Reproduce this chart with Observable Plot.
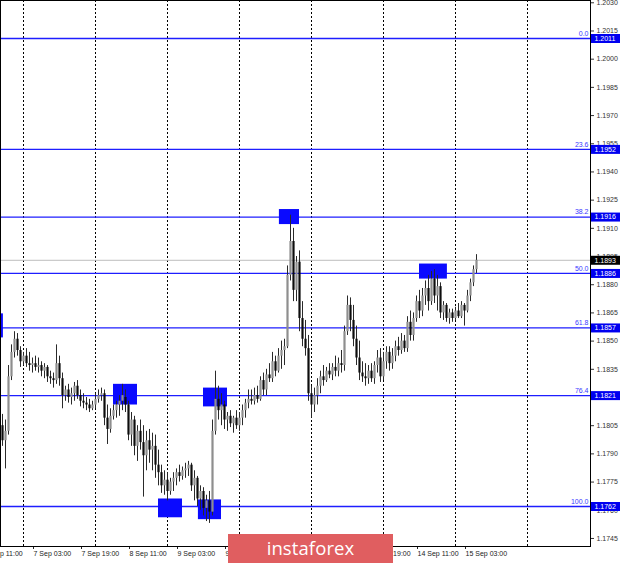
<!DOCTYPE html>
<html>
<head>
<meta charset="utf-8">
<script src="https://cdn.jsdelivr.net/npm/d3@7"></script>
<script src="https://cdn.jsdelivr.net/npm/@observablehq/plot@0.6"></script>
<style>
  html, body { margin: 0; padding: 0; background: #fff; }
  #wrap { position: relative; width: 620px; height: 563px; overflow: hidden; }
  #wm { position: absolute; left: 228px; top: 534px; width: 165px; height: 40px;
        background: #e05e60; color: #fff; font-family: "Open Sans", "Liberation Sans", sans-serif;
        font-size: 18.5px; line-height: 28px; text-align: center; letter-spacing: 0.1px; }
</style>
</head>
<body>
<div id="wrap"><div id="chart"></div><div id="wm">instaforex</div></div>
<script>
// ---- data (EURUSD H1) ----
const firstBar = -1; // index of first bar (7 Sep 03:00 = index 10)
const openP = [1.1808,1.1805,1.1797,1.1802,1.1831,1.1844,1.1851,1.1845,1.1839,1.1842,1.1838,1.1837,1.1838,1.1836,1.1837,1.1834,1.1836,1.1831,1.1830,1.1829,1.1838,1.1830,1.1821,1.1824,1.1820,1.1822,1.1826,1.1821,1.1818,1.1817,1.1816,1.1814,1.1816,1.1819,1.1821,1.1822,1.1809,1.1803,1.1810,1.1813,1.1816,1.1818,1.1820,1.1816,1.1800,1.1808,1.1794,1.1802,1.1796,1.1789,1.1797,1.1792,1.1794,1.1784,1.1780,1.1773,1.1776,1.1770,1.1775,1.1777,1.1780,1.1778,1.1781,1.1782,1.1784,1.1773,1.1777,1.1766,1.1770,1.1761,1.1765,1.1759,1.1802,1.1819,1.1813,1.1816,1.1808,1.1810,1.1806,1.1809,1.1805,1.1809,1.1813,1.1817,1.1819,1.1818,1.1821,1.1819,1.1829,1.1824,1.1832,1.1830,1.1839,1.1834,1.1842,1.1845,1.1847,1.1885,1.1903,1.1877,1.1892,1.1862,1.1851,1.1846,1.1822,1.1816,1.1821,1.1826,1.1831,1.1829,1.1834,1.1832,1.1836,1.1834,1.1838,1.1837,1.1855,1.1869,1.1861,1.1851,1.1841,1.1833,1.1831,1.1830,1.1834,1.1830,1.1837,1.1841,1.1831,1.1839,1.1844,1.1838,1.1842,1.1847,1.1845,1.1850,1.1846,1.1860,1.1853,1.1862,1.1871,1.1866,1.1874,1.1878,1.1871,1.1883,1.1874,1.1879,1.1865,1.1869,1.1862,1.1865,1.1862,1.1866,1.1863,1.1869,1.1866,1.1874,1.1881,1.1888];
const highP = [1.1816,1.1811,1.1808,1.1837,1.1848,1.1855,1.1854,1.1847,1.1844,1.1846,1.1844,1.1841,1.1842,1.1841,1.1839,1.1838,1.1837,1.1834,1.1833,1.1848,1.1842,1.1833,1.1826,1.1827,1.1825,1.1828,1.1829,1.1824,1.1822,1.1820,1.1819,1.1818,1.1822,1.1824,1.1825,1.1824,1.1816,1.1814,1.1816,1.1818,1.1821,1.1827,1.1824,1.1818,1.1812,1.1810,1.1805,1.1808,1.1805,1.1802,1.1803,1.1801,1.1800,1.1792,1.1784,1.1781,1.1780,1.1777,1.1780,1.1782,1.1784,1.1783,1.1785,1.1786,1.1785,1.1781,1.1778,1.1773,1.1772,1.1768,1.1770,1.1808,1.1834,1.1826,1.1822,1.1818,1.1812,1.1813,1.1810,1.1813,1.1812,1.1816,1.1819,1.1824,1.1824,1.1825,1.1826,1.1831,1.1833,1.1835,1.1838,1.1844,1.1842,1.1846,1.1850,1.1851,1.1890,1.1917,1.1910,1.1895,1.1898,1.1871,1.1861,1.1853,1.1826,1.1825,1.1830,1.1834,1.1837,1.1836,1.1838,1.1838,1.1842,1.1841,1.1845,1.1858,1.1874,1.1873,1.1869,1.1858,1.1850,1.1839,1.1838,1.1837,1.1838,1.1839,1.1845,1.1846,1.1844,1.1847,1.1847,1.1846,1.1850,1.1852,1.1854,1.1853,1.1863,1.1866,1.1865,1.1874,1.1877,1.1878,1.1882,1.1885,1.1887,1.1888,1.1885,1.1881,1.1871,1.1870,1.1867,1.1867,1.1868,1.1870,1.1871,1.1870,1.1877,1.1883,1.1890,1.1896];
const lowP = [1.1797,1.1794,1.1782,1.1800,1.1829,1.1841,1.1842,1.1836,1.1837,1.1836,1.1834,1.1833,1.1834,1.1833,1.1831,1.1830,1.1828,1.1827,1.1825,1.1827,1.1826,1.1814,1.1818,1.1817,1.1816,1.1818,1.1819,1.1815,1.1814,1.1813,1.1812,1.1813,1.1814,1.1817,1.1818,1.1805,1.1795,1.1801,1.1808,1.1809,1.1810,1.1813,1.1812,1.1797,1.1794,1.1789,1.1786,1.1792,1.1767,1.1781,1.1785,1.1781,1.1777,1.1773,1.1769,1.1768,1.1765,1.1768,1.1770,1.1773,1.1775,1.1776,1.1777,1.1778,1.1770,1.1765,1.1762,1.1760,1.1757,1.1754,1.1753,1.1757,1.1800,1.1808,1.1805,1.1803,1.1802,1.1804,1.1801,1.1803,1.1802,1.1805,1.1809,1.1814,1.1816,1.1816,1.1817,1.1818,1.1821,1.1821,1.1828,1.1828,1.1831,1.1833,1.1835,1.1837,1.1846,1.1882,1.1871,1.1871,1.1855,1.1847,1.1842,1.1818,1.1809,1.1812,1.1816,1.1822,1.1826,1.1828,1.1830,1.1829,1.1831,1.1831,1.1833,1.1834,1.1853,1.1855,1.1847,1.1837,1.1829,1.1828,1.1826,1.1827,1.1828,1.1827,1.1833,1.1828,1.1829,1.1835,1.1834,1.1835,1.1839,1.1842,1.1843,1.1844,1.1844,1.1850,1.1850,1.1860,1.1862,1.1863,1.1869,1.1866,1.1869,1.1870,1.1866,1.1862,1.1861,1.1860,1.1859,1.1860,1.1861,1.1862,1.1862,1.1858,1.1865,1.1871,1.1879,1.1886];
const closeP = [1.1802,1.1797,1.1802,1.1831,1.1844,1.1851,1.1845,1.1839,1.1842,1.1838,1.1837,1.1838,1.1836,1.1837,1.1834,1.1836,1.1831,1.1830,1.1829,1.1838,1.1830,1.1821,1.1824,1.1820,1.1822,1.1826,1.1821,1.1818,1.1817,1.1816,1.1814,1.1816,1.1819,1.1821,1.1822,1.1809,1.1803,1.1810,1.1813,1.1816,1.1818,1.1821,1.1816,1.1800,1.1808,1.1794,1.1802,1.1796,1.1789,1.1797,1.1792,1.1794,1.1784,1.1780,1.1773,1.1776,1.1770,1.1775,1.1777,1.1780,1.1778,1.1781,1.1782,1.1784,1.1773,1.1777,1.1766,1.1770,1.1761,1.1765,1.1759,1.1802,1.1819,1.1813,1.1816,1.1808,1.1810,1.1806,1.1809,1.1805,1.1809,1.1813,1.1817,1.1819,1.1818,1.1821,1.1819,1.1829,1.1824,1.1832,1.1830,1.1839,1.1834,1.1842,1.1845,1.1847,1.1885,1.1903,1.1877,1.1892,1.1862,1.1851,1.1846,1.1822,1.1816,1.1821,1.1826,1.1831,1.1829,1.1834,1.1832,1.1836,1.1834,1.1838,1.1837,1.1855,1.1869,1.1861,1.1851,1.1841,1.1833,1.1831,1.1830,1.1834,1.1830,1.1837,1.1841,1.1831,1.1839,1.1844,1.1838,1.1842,1.1847,1.1845,1.1850,1.1846,1.1860,1.1853,1.1862,1.1871,1.1866,1.1874,1.1878,1.1871,1.1883,1.1874,1.1879,1.1865,1.1869,1.1862,1.1865,1.1862,1.1866,1.1863,1.1869,1.1866,1.1874,1.1881,1.1888,1.1893];

const fibPct   = ["0.0","23.6","38.2","50.0","61.8","76.4","100.0"];
const fibPrice = [1.2011,1.1952,1.1916,1.1886,1.1857,1.1821,1.1762];
const currentPrice = 1.1893;

// blue zone markers: bar index range and price range
const zoneStart  = [-7, 37, 52, 65.3, 67, 92.3, 139];
const zoneEnd    = [0.3, 45, 60, 73, 75, 99, 148.3];
const zoneTop    = [1.18645, 1.1827, 1.1766, 1.17655, 1.1825, 1.1920, 1.1891];
const zoneBottom = [1.18517, 1.1816, 1.1756, 1.1755, 1.1815, 1.1912, 1.1883];

const yTicks = [1.2030,1.2015,1.2000,1.1985,1.1970,1.1955,1.1940,1.1925,1.1910,1.1895,1.1880,1.1865,1.1850,1.1835,1.1820,1.1805,1.1790,1.1775,1.1760,1.1745];
const xTickIdx = [-6,10,26,42,58,74,90,106,122,138,154];
const xTickLabels = ["4 Sep 11:00","7 Sep 03:00","7 Sep 19:00","8 Sep 11:00","9 Sep 03:00","9 Sep 19:00","10 Sep 11:00","11 Sep 03:00","11 Sep 19:00","14 Sep 11:00","15 Sep 03:00"];
const daySepIdx = [7,31,55,79,103,127,151,175];
const xDomain = [-0.667, 196];
const yDomain = [1.174072, 1.203122];

// ---- build ----
const candles = openP.map((o, k) => ({i: k + firstBar, o, h: highP[k], l: lowP[k], c: closeP[k]}));
const zones = zoneStart.map((s, k) => ({x1: s, x2: zoneEnd[k], y1: zoneBottom[k], y2: zoneTop[k]}));
const labelOf = new Map(xTickIdx.map((d, k) => [d, xTickLabels[k]]));

const chart = Plot.plot({
  width: 620, height: 563,
  marginLeft: 0, marginRight: 30, marginTop: 0, marginBottom: 17,
  style: {fontFamily: "'Liberation Sans', Arial, sans-serif", fontSize: "7px", color: "#222", background: "#fff"},
  x: {type: "linear", domain: xDomain, axis: null},
  y: {type: "linear", domain: yDomain, axis: null},
  marks: [
    Plot.ruleX(daySepIdx, {x: d => d, stroke: "#000", strokeWidth: 1, strokeDasharray: "2,2"}),
    Plot.ruleY([currentPrice], {y: d => d, stroke: "#bdbdbd", strokeWidth: 1}),
    Plot.ruleY(fibPrice, {y: d => d, stroke: "#1e1eff", strokeWidth: 1.3}),
    Plot.rect(zones, {x1: "x1", x2: "x2", y1: "y1", y2: "y2", fill: "#0a0aff"}),
    Plot.ruleX(candles, {x: "i", y1: "l", y2: "h", stroke: "#2a2a2a", strokeWidth: 1}),
    Plot.ruleX(candles, {x: "i", y1: "o", y2: "c", strokeWidth: 2.2,
      stroke: d => d.c >= d.o ? "#8e8e8e" : "#0d0d0d"}),
    Plot.text(fibPrice, {y: d => d, text: (d, k) => fibPct[k], frameAnchor: "right",
      textAnchor: "end", dx: -2, dy: -5, fill: "#3a3aff", fontSize: 7}),
    Plot.axisY(yTicks, {anchor: "right", tickFormat: d => d.toFixed(4), tickSize: 3,
      tickPadding: 3, fontSize: 7, color: "#333"}),
    Plot.tickY(fibPrice, {y: d => d, stroke: "#0000f0", strokeWidth: 9, insetLeft: 561, dx: 30}),
    Plot.text(fibPrice, {y: d => d, text: d => d.toFixed(4), frameAnchor: "right",
      textAnchor: "start", dx: 4, fill: "#fff", fontSize: 7}),
    Plot.tickY([currentPrice], {y: d => d, stroke: "#000", strokeWidth: 9, insetLeft: 561, dx: 30}),
    Plot.text([currentPrice], {y: d => d, text: d => d.toFixed(4), frameAnchor: "right",
      textAnchor: "start", dx: 4, fill: "#fff", fontSize: 7}),
    Plot.axisX(xTickIdx, {anchor: "bottom", tickFormat: d => labelOf.get(d), textAnchor: "start",
      tickSize: 3, tickPadding: 2, dx: 1, fontSize: 7, color: "#222"}),
    Plot.frame({stroke: "#000"})
  ]
});
document.getElementById("chart").appendChild(chart);
</script>
</body>
</html>
